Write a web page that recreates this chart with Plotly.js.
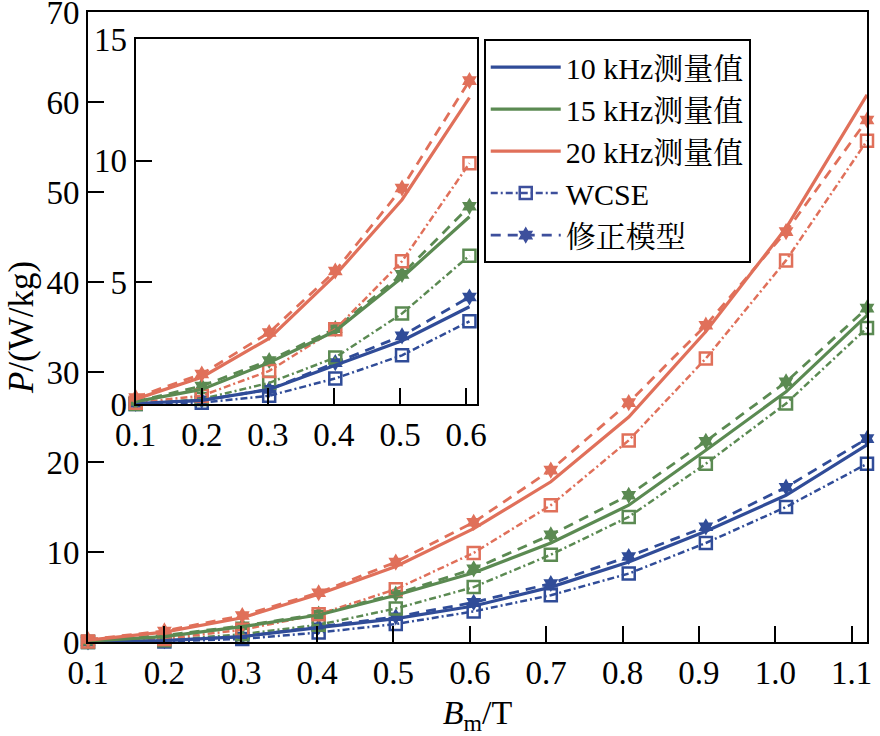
<!DOCTYPE html>
<html>
<head>
<meta charset="utf-8">
<script src="https://cdn.plot.ly/plotly-3.0.1.min.js"></script>
<style>html,body{margin:0;padding:0;background:#fff;}#chart{width:880px;height:736px;}</style>
</head>
<body>
<div id="chart"></div>
<script>
// Magnetic flux density B_m (T)
const bm = [0.1, 0.2, 0.302, 0.402, 0.503, 0.605, 0.706, 0.808, 0.909, 1.014, 1.12];

// Measured loss P (W/kg)
const meas10 = [0.02, 0.15, 0.6, 1.6, 2.6, 4.0, 6.1, 8.9, 12.3, 16.3, 21.9];
const meas15 = [0.1, 0.6, 1.7, 3.0, 5.2, 7.7, 11.0, 15.2, 21.3, 27.8, 36.3];
const meas20 = [0.2, 1.1, 2.7, 5.3, 8.4, 12.6, 17.8, 25.0, 34.5, 46.0, 60.8];

// WCSE model
const wcse10 = [0.0, 0.05, 0.34, 1.05, 2.0, 3.4, 5.2, 7.6, 11.0, 15.0, 19.8];
const wcse15 = [0.0, 0.2, 0.87, 1.91, 3.72, 6.1, 9.7, 13.9, 19.8, 26.5, 34.9];
const wcse20 = [0.05, 0.34, 1.36, 3.07, 5.87, 9.9, 15.2, 22.4, 31.5, 42.4, 55.7];

// Corrected model (修正模型)
const corr10 = [0.02, 0.15, 0.6, 1.7, 2.8, 4.4, 6.5, 9.5, 12.8, 17.2, 22.6];
const corr15 = [0.1, 0.74, 1.79, 3.1, 5.33, 8.13, 11.9, 16.3, 22.3, 28.9, 37.1];
const corr20 = [0.27, 1.23, 2.94, 5.47, 8.88, 13.3, 19.1, 26.6, 35.2, 45.6, 58.0];

const insetCount = 6; // points with B_m <= 0.6 shown in the inset

const names = ['10 kHz测量值', '15 kHz测量值', '20 kHz测量值', 'WCSE', '修正模型'];
const colors = {b: '#304c98', g: '#5b8a52', o: '#e0705a', leg: '#3d4f9c'};

const FONT = '"Liberation Serif", "Times New Roman", "Noto Serif CJK SC", "Noto Sans CJK SC", serif';

const groups = [
  {meas: meas10, wcse: wcse10, corr: corr10, c: colors.b, name: names[0]},
  {meas: meas15, wcse: wcse15, corr: corr15, c: colors.g, name: names[1]},
  {meas: meas20, wcse: wcse20, corr: corr20, c: colors.o, name: names[2]}
];

const WCSE_DASH = '7px,3px,2px,3px';
const CORR_DASH = '10px,7px';

function series(xs, ys, n, xa, ya) {
  return {x: xs.slice(0, n), y: ys.slice(0, n), xaxis: xa, yaxis: ya};
}

const traces = [];
function addSet(n, xa, ya, legend) {
  groups.forEach(g => {
    traces.push(Object.assign(series(bm, g.wcse, n, xa, ya), {
      type: 'scatter', mode: 'lines+markers', showlegend: false, cliponaxis: false,
      line: {color: g.c, width: 2.5, dash: WCSE_DASH},
      marker: {symbol: 'square-open', size: 12, color: g.c, line: {width: 2.5, color: g.c}}
    }));
    traces.push(Object.assign(series(bm, g.corr, n, xa, ya), {
      type: 'scatter', mode: 'lines+markers', showlegend: false, cliponaxis: false,
      line: {color: g.c, width: 2.8, dash: CORR_DASH},
      marker: {symbol: 'hexagram', size: 13, color: g.c, line: {width: 0}}
    }));
  });
  groups.forEach(g => {
    traces.push(Object.assign(series(bm, g.meas, n, xa, ya), {
      type: 'scatter', mode: 'lines', name: g.name, showlegend: legend, legendrank: names.indexOf(g.name) + 1,
      line: {color: g.c, width: 3.2}
    }));
  });
}
addSet(bm.length, 'x', 'y', true);
addSet(insetCount, 'x2', 'y2', false);

// legend-only entries for the two model styles
traces.push({type: 'scatter', mode: 'lines+markers', x: [null], y: [null], name: names[3], legendrank: 4,
  line: {color: colors.leg, width: 2.5, dash: WCSE_DASH},
  marker: {symbol: 'square-open', size: 12, color: colors.leg, line: {width: 2.5, color: colors.leg}}});
traces.push({type: 'scatter', mode: 'lines+markers', x: [null], y: [null], name: names[4], legendrank: 5,
  line: {color: colors.leg, width: 2.8, dash: CORR_DASH},
  marker: {symbol: 'hexagram', size: 13, color: colors.leg}});

const axisCommon = {
  showline: true, linewidth: 2, linecolor: '#000', mirror: true,
  ticks: 'inside', ticklen: 16, tickwidth: 2, tickcolor: '#000',
  showgrid: false, zeroline: false, ticklabeloverflow: 'allow',
  tickfont: {family: FONT, size: 33, color: '#000'}
};

const layout = {
  width: 880, height: 736,
  margin: {l: 88, r: 13, t: 12, b: 94},
  paper_bgcolor: '#fff', plot_bgcolor: '#fff',
  font: {family: FONT, size: 32, color: '#000'},
  showlegend: true,
  legend: {
    x: 0.508, y: 0.957, xanchor: 'left', yanchor: 'top',
    bgcolor: '#fff', bordercolor: '#000', borderwidth: 2,
    font: {family: FONT, size: 30, color: '#000'},
    itemwidth: 70, tracegroupgap: 0
  },
  xaxis: Object.assign({}, axisCommon, {
    range: [0.1, 1.12], tick0: 0.1, dtick: 0.1, tickformat: '.1f',
    title: {text: '<i>B</i><sub>m</sub>/T', font: {family: FONT, size: 34}, standoff: 12}
  }),
  yaxis: Object.assign({}, axisCommon, {
    range: [0, 70], tick0: 0, dtick: 10,
    title: {text: '<i>P</i>/(W/kg)', font: {family: FONT, size: 35}, standoff: 2}
  }),
  xaxis2: Object.assign({}, axisCommon, {
    domain: [0.0612, 0.499], anchor: 'y2', range: [0.1, 0.616], tick0: 0.1, dtick: 0.1, tickformat: '.1f'
  }),
  yaxis2: Object.assign({}, axisCommon, {
    domain: [0.3778, 0.9567], anchor: 'x2', range: [0, 15], tick0: 0, dtick: 5
  })
};

Plotly.newPlot('chart', traces, layout, {displayModeBar: false, staticPlot: true});
</script>
</body>
</html>
